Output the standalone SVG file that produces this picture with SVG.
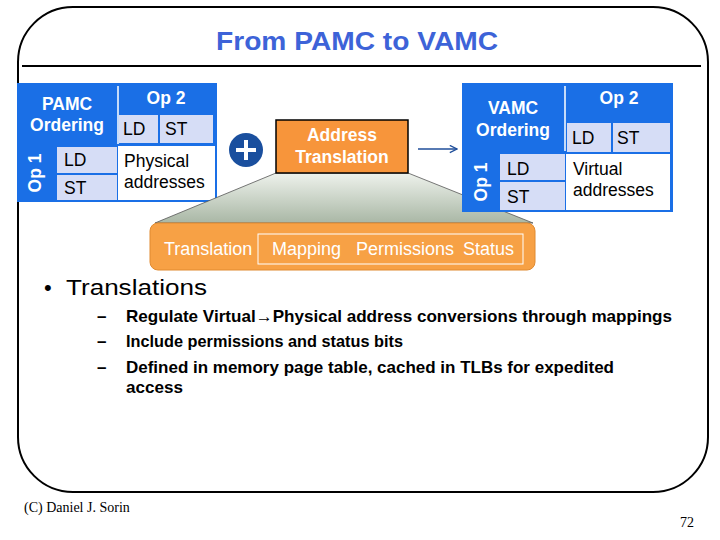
<svg xmlns="http://www.w3.org/2000/svg" width="720" height="540" viewBox="0 0 720 540">
<defs>
<linearGradient id="trap" x1="0" y1="0" x2="0" y2="1">
<stop offset="0" stop-color="#eef2ec"/>
<stop offset="1" stop-color="#a9b7a5"/>
</linearGradient>
<marker id="arr" viewBox="0 0 10 10" refX="9" refY="5" markerWidth="9" markerHeight="9" orient="auto" markerUnits="userSpaceOnUse">
<path d="M1,1 L9,5 L1,9" fill="none" stroke="#1f4e9a" stroke-width="1.5"/>
</marker>
</defs>
<style>
text{font-family:"Liberation Sans",Arial,sans-serif}
.wb{fill:#fff;font-weight:bold;font-size:17.5px}
.cell{fill:#000;font-size:17.5px}
.blue{fill:#1a6fe6}
.lav{fill:#d6ddf6}
.wt{fill:#fff;font-size:18px}
.sub{font-weight:bold;font-size:17px;fill:#000}
.foot{font-family:"Liberation Serif","Times New Roman",serif;font-size:14px;fill:#000}
</style>
<rect width="720" height="540" fill="#fff"/>
<rect x="18" y="7" width="690" height="485" rx="55" ry="55" fill="none" stroke="#000" stroke-width="2"/>
<line x1="22" y1="66" x2="701" y2="66" stroke="#000" stroke-width="2"/>
<text x="357" y="50" text-anchor="middle" font-size="25" font-weight="bold" fill="#3d63d8" textLength="282" lengthAdjust="spacingAndGlyphs">From PAMC to VAMC</text>

<g id="pamc-table">
<rect class="blue" x="17" y="83" width="200" height="119"/>
<line x1="118" y1="86" x2="118" y2="144" stroke="#fff" stroke-width="1.5"/>
<rect class="lav" x="119" y="115" width="39" height="28"/>
<rect class="lav" x="160" y="115" width="53" height="28"/>
<rect class="lav" x="57" y="147" width="60" height="26"/>
<rect class="lav" x="57" y="175" width="60" height="25"/>
<rect x="118" y="146" width="97" height="54" fill="#fff"/>
<text class="wb" x="67" y="110" text-anchor="middle">PAMC</text>
<text class="wb" x="67" y="131" text-anchor="middle">Ordering</text>
<text class="wb" x="166" y="104" text-anchor="middle">Op 2</text>
<text class="cell" x="123" y="135">LD</text>
<text class="cell" x="165" y="135">ST</text>
<text class="wb" transform="translate(41,173) rotate(-90)" text-anchor="middle">Op 1</text>
<text class="cell" x="64" y="166">LD</text>
<text class="cell" x="64" y="194">ST</text>
<text class="cell" x="124" y="167">Physical</text>
<text class="cell" x="124" y="188">addresses</text>
</g>

<g id="plus">
<circle cx="246" cy="150" r="17" fill="#1a4f9e"/>
<path d="M246,140 V160 M236,150 H256" stroke="#fff" stroke-width="4"/>
</g>

<g id="zoom-trapezoid">
<polygon points="276,173 408,173 533,223 155,223" fill="url(#trap)" stroke="#555" stroke-width="0.8"/>
</g>

<g id="address-translation">
<rect x="276" y="120" width="132" height="53" fill="#f7953b" stroke="#000" stroke-width="1.5"/>
<text class="wb" x="342" y="141" text-anchor="middle">Address</text>
<text class="wb" x="342" y="163" text-anchor="middle">Translation</text>
</g>

<g id="translation-band">
<rect x="150" y="223" width="385" height="47" rx="8" ry="8" fill="#f7a145" stroke="#e08a30" stroke-width="1"/>
<rect x="258" y="234" width="265" height="30" fill="none" stroke="#fff" stroke-width="1"/>
<text class="wt" x="164" y="255">Translation</text>
<text class="wt" x="272" y="255">Mapping</text>
<text class="wt" x="356" y="255">Permissions</text>
<text class="wt" x="463" y="255">Status</text>
</g>

<g id="vamc-table">
<rect class="blue" x="462" y="83" width="211" height="129"/>
<line x1="565" y1="86" x2="565" y2="151" stroke="#fff" stroke-width="1.5"/>
<rect class="lav" x="567" y="123" width="44" height="29"/>
<rect class="lav" x="613" y="123" width="57" height="29"/>
<rect class="lav" x="500" y="154" width="65" height="26"/>
<rect class="lav" x="500" y="182" width="65" height="28"/>
<rect x="566" y="154" width="104" height="56" fill="#fff"/>
<text class="wb" x="513" y="114" text-anchor="middle">VAMC</text>
<text class="wb" x="513" y="136" text-anchor="middle">Ordering</text>
<text class="wb" x="619" y="104" text-anchor="middle">Op 2</text>
<text class="cell" x="572" y="144">LD</text>
<text class="cell" x="617" y="144">ST</text>
<text class="wb" transform="translate(487,182) rotate(-90)" text-anchor="middle">Op 1</text>
<text class="cell" x="507" y="175">LD</text>
<text class="cell" x="507" y="203">ST</text>
<text class="cell" x="573" y="175">Virtual</text>
<text class="cell" x="573" y="196">addresses</text>
</g>

<g id="connectors">
<line x1="418" y1="149" x2="457" y2="149" stroke="#1f4e9a" stroke-width="1.5" marker-end="url(#arr)"/>
</g>

<g id="bullets">
<text x="44" y="295" font-size="22" fill="#000">•</text>
<text x="66" y="295" font-size="22" fill="#000" textLength="141" lengthAdjust="spacingAndGlyphs">Translations</text>
<text class="sub" x="97" y="322">–</text>
<text class="sub" x="97" y="347">–</text>
<text class="sub" x="97" y="373">–</text>
<text class="sub" x="126" y="322" textLength="546" lengthAdjust="spacingAndGlyphs">Regulate Virtual→Physical address conversions through mappings</text>
<text class="sub" x="126" y="347" textLength="277" lengthAdjust="spacingAndGlyphs">Include permissions and status bits</text>
<text class="sub" x="126" y="373" textLength="488" lengthAdjust="spacingAndGlyphs">Defined in memory page table, cached in TLBs for expedited</text>
<text class="sub" x="126" y="393" textLength="57" lengthAdjust="spacingAndGlyphs">access</text>
</g>

<text class="foot" x="24" y="512">(C) Daniel J. Sorin</text>
<text class="foot" x="680" y="527">72</text>
</svg>
